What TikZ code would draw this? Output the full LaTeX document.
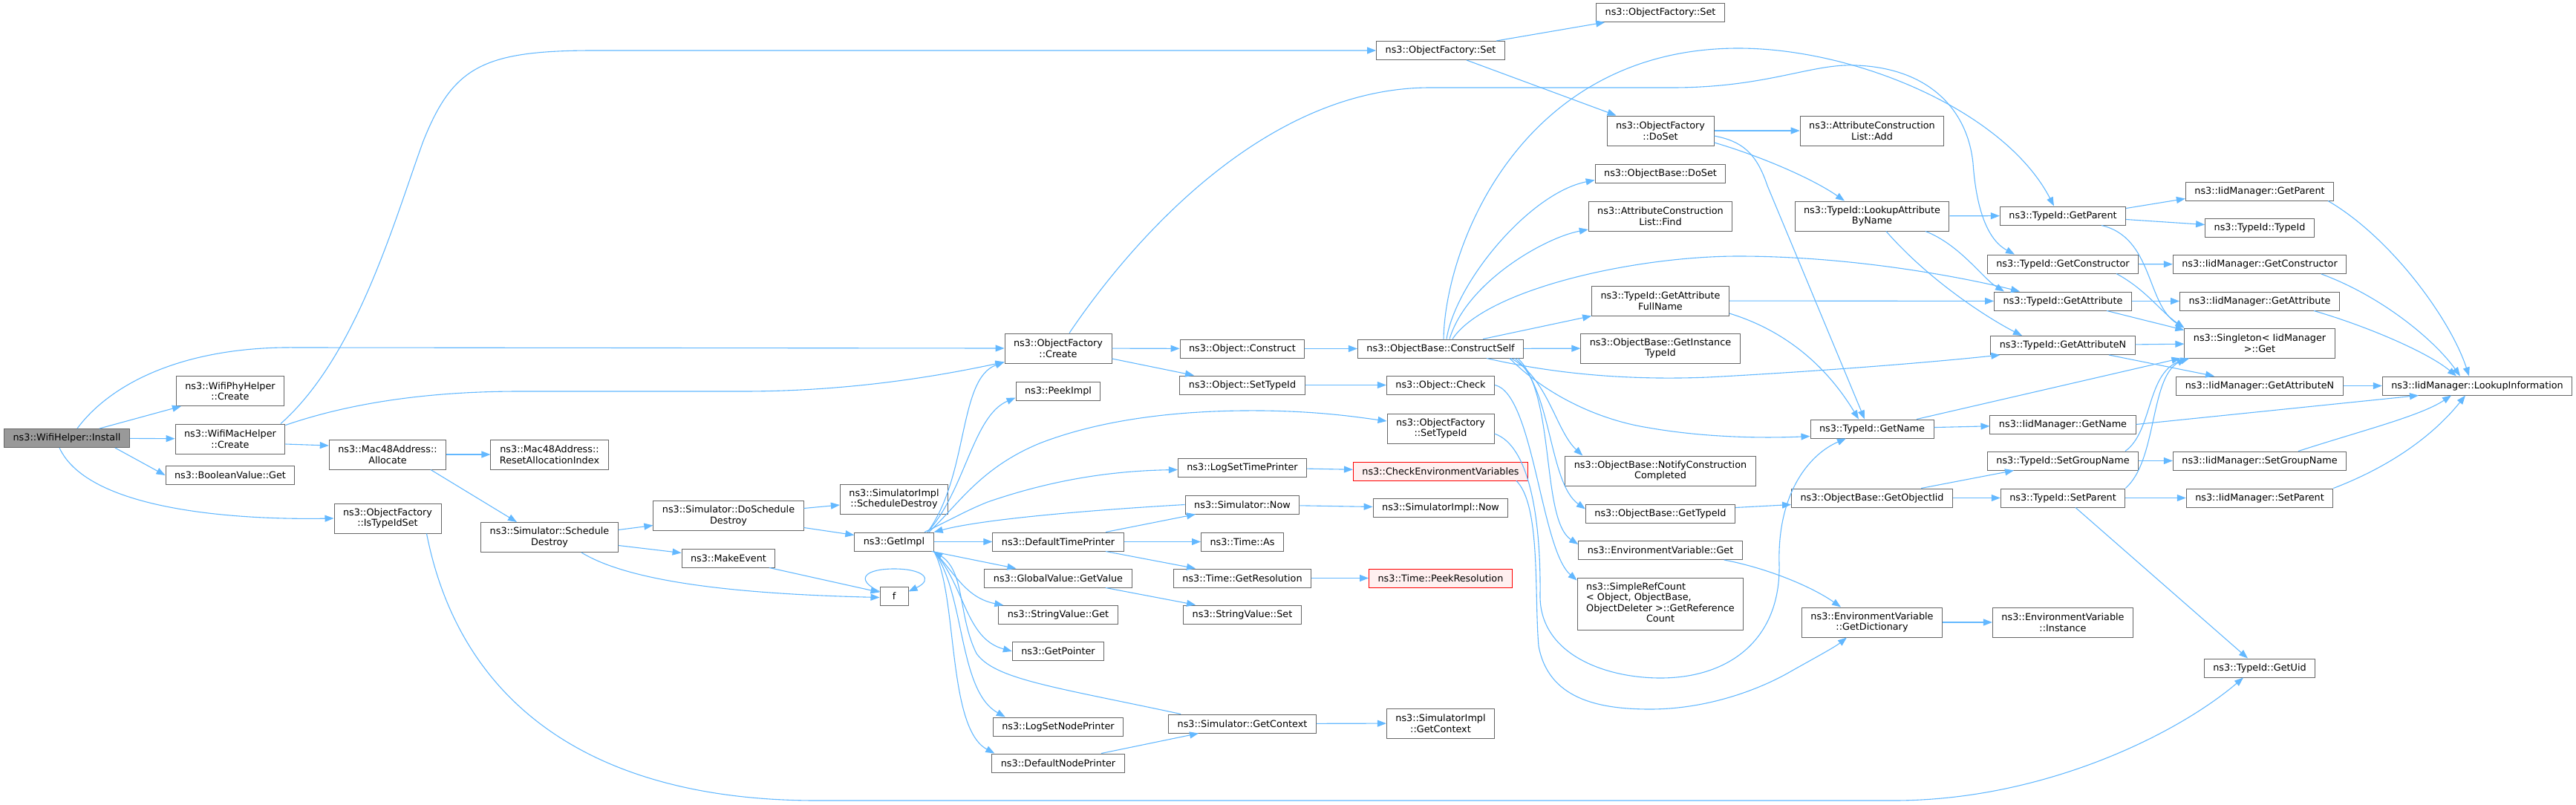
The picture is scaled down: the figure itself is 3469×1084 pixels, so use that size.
\documentclass[tikz,border=0pt]{standalone}
\usepackage{fontspec}
\setmainfont{DejaVu Sans}
\usepackage{xcolor}
\usetikzlibrary{arrows.meta}
\definecolor{edgeblue}{HTML}{63B8FF}
\definecolor{boxgray}{HTML}{666666}
\definecolor{rootgray}{HTML}{999999}
\definecolor{truncfill}{HTML}{FFF0F0}

\begin{document}
\begin{tikzpicture}[->, >={Triangle[length=12pt,width=9pt]}, draw=edgeblue, line width=1.1pt, x=1pt, y=-1pt, font=\fontsize{12.8pt}{14.5pt}\selectfont]
    \tikzstyle{fn}=[draw=boxgray, fill=white, rectangle, line width=1pt, align=center, inner xsep=12pt, inner ysep=6pt, minimum height=25pt, minimum width=38pt]
    \tikzstyle{fn2}=[fn, minimum height=40pt]
    \tikzstyle{root}=[fn, fill=rootgray]
    \tikzstyle{trunc}=[fn, draw=red, fill=truncfill]

    \useasboundingbox (0,0) rectangle (3469,1084);

    \node[root] (install) at (90,590) {ns3::WifiHelper::Install};

    \node[fn2] (phyCreate) at (310,526.5) {ns3::WifiPhyHelper\\::Create};
    \node[fn2] (macCreate) at (310,591) {ns3::WifiMacHelper\\::Create};
    \node[fn] (boolGet) at (310,640) {ns3::BooleanValue::Get};

    \node[fn2] (macAlloc) at (522,612) {ns3::Mac48Address::\\Allocate};
    \node[fn2] (isTypeIdSet) at (522,698) {ns3::ObjectFactory\\::IsTypeIdSet};

    \node[fn2] (resetAlloc) at (740,612) {ns3::Mac48Address::\\ResetAllocationIndex};
    \node[fn2] (schedDestroy) at (740,723.5) {ns3::Simulator::Schedule\\Destroy};

    \node[fn2] (doSchedDestroy) at (981,694.5) {ns3::Simulator::DoSchedule\\Destroy};
    \node[fn] (makeEvent) at (981,751.5) {ns3::MakeEvent};

    \node[fn2] (implSchedDestroy) at (1204,672) {ns3::SimulatorImpl\\::ScheduleDestroy};
    \node[fn] (getImpl) at (1204,729.5) {ns3::GetImpl};
    \node[fn] (f) at (1204,802.5) {f};

    \node[fn2] (objCreate) at (1425,469) {ns3::ObjectFactory\\::Create};
    \node[fn] (peekImpl) at (1425,526.5) {ns3::PeekImpl};
    \node[fn] (defTimePrinter) at (1425,729.5) {ns3::DefaultTimePrinter};
    \node[fn] (gvGetValue) at (1425,778.5) {ns3::GlobalValue::GetValue};
    \node[fn] (svGet) at (1425,828) {ns3::StringValue::Get};
    \node[fn] (getPointer) at (1425,877) {ns3::GetPointer};
    \node[fn] (logSetNodePrinter) at (1425,978.5) {ns3::LogSetNodePrinter};
    \node[fn] (defNodePrinter) at (1425,1027.5) {ns3::DefaultNodePrinter};

    \node[fn] (objConstruct) at (1673,469.5) {ns3::Object::Construct};
    \node[fn] (objSetTypeId) at (1673,518.5) {ns3::Object::SetTypeId};
    \node[fn] (logSetTimePrinter) at (1673,629.5) {ns3::LogSetTimePrinter};
    \node[fn] (simNow) at (1673,679.5) {ns3::Simulator::Now};
    \node[fn] (timeAs) at (1673,729.5) {ns3::Time::As};
    \node[fn] (timeGetRes) at (1673,778.5) {ns3::Time::GetResolution};
    \node[fn] (svSet) at (1673,827.5) {ns3::StringValue::Set};
    \node[fn] (simGetContext) at (1673,974.5) {ns3::Simulator::GetContext};

    \node[fn] (ofSet2) at (1940,68) {ns3::ObjectFactory::Set};
    \node[fn] (constructSelf) at (1940,469.5) {ns3::ObjectBase::ConstructSelf};
    \node[fn] (objCheck) at (1940,518.5) {ns3::Object::Check};
    \node[fn2] (ofSetTypeId) at (1940,577) {ns3::ObjectFactory\\::SetTypeId};
    \node[trunc] (checkEnv) at (1940,634.5) {ns3::CheckEnvironmentVariables};
    \node[fn] (implNow) at (1940,684) {ns3::SimulatorImpl::Now};
    \node[trunc] (peekRes) at (1940,778.5) {ns3::Time::PeekResolution};
    \node[fn2] (implGetContext) at (1940,974) {ns3::SimulatorImpl\\::GetContext};

    \node[fn] (ofSet1) at (2236,17) {ns3::ObjectFactory::Set};
    \node[fn2] (ofDoSet) at (2236,176) {ns3::ObjectFactory\\::DoSet};
    \node[fn] (obDoSet) at (2236,233.5) {ns3::ObjectBase::DoSet};
    \node[fn2] (aclFind) at (2236,291) {ns3::AttributeConstruction\\List::Find};
    \node[fn2] (getAttrFullName) at (2236,405) {ns3::TypeId::GetAttribute\\FullName};
    \node[fn2] (getInstTypeId) at (2236,469) {ns3::ObjectBase::GetInstance\\TypeId};
    \node[fn2] (notifyCC) at (2236,634) {ns3::ObjectBase::NotifyConstruction\\Completed};
    \node[fn] (obGetTypeId) at (2236,691.5) {ns3::ObjectBase::GetTypeId};
    \node[fn] (envGet) at (2236,741) {ns3::EnvironmentVariable::Get};
    \node[fn, minimum height=70pt] (refCount) at (2236,813) {\begin{tabular}{@{}l@{}}ns3::SimpleRefCount\\< Object, ObjectBase,\\\multicolumn{1}{@{}c@{}}{ObjectDeleter >::GetReference}\\\multicolumn{1}{@{}c@{}}{Count}\end{tabular}};

    \node[fn2] (aclAdd) at (2521,176) {ns3::AttributeConstruction\\List::Add};
    \node[fn2] (lookupAttr) at (2521,291) {ns3::TypeId::LookupAttribute\\ByName};
    \node[fn] (tidGetName) at (2521,577.5) {ns3::TypeId::GetName};
    \node[fn] (getObjectIid) at (2521,670.5) {ns3::ObjectBase::GetObjectIid};
    \node[fn2] (envGetDict) at (2521,838) {ns3::EnvironmentVariable\\::GetDictionary};

    \node[fn] (tidGetParent) at (2778,290.5) {ns3::TypeId::GetParent};
    \node[fn] (tidGetCtor) at (2778,355.5) {ns3::TypeId::GetConstructor};
    \node[fn] (tidGetAttr) at (2778,405.5) {ns3::TypeId::GetAttribute};
    \node[fn] (tidGetAttrN) at (2778,465) {ns3::TypeId::GetAttributeN};
    \node[fn] (iidGetName) at (2778,571.5) {ns3::IidManager::GetName};
    \node[fn] (tidSetGroupName) at (2778,620.5) {ns3::TypeId::SetGroupName};
    \node[fn] (tidSetParent) at (2778,670.5) {ns3::TypeId::SetParent};
    \node[fn2] (envInstance) at (2778,838) {ns3::EnvironmentVariable\\::Instance};

    \node[fn] (iidGetParent) at (3043,257.5) {ns3::IidManager::GetParent};
    \node[fn] (tidTypeId) at (3043,306.5) {ns3::TypeId::TypeId};
    \node[fn] (iidGetCtor) at (3043,356) {ns3::IidManager::GetConstructor};
    \node[fn] (iidGetAttr) at (3043,405.5) {ns3::IidManager::GetAttribute};
    \node[fn2] (singletonGet) at (3043,462) {ns3::Singleton< IidManager\\>::Get};
    \node[fn] (iidGetAttrN) at (3043,519.5) {ns3::IidManager::GetAttributeN};
    \node[fn] (iidSetGroupName) at (3043,620.5) {ns3::IidManager::SetGroupName};
    \node[fn] (iidSetParent) at (3043,670.5) {ns3::IidManager::SetParent};
    \node[fn] (tidGetUid) at (3043,899.5) {ns3::TypeId::GetUid};

    \node[fn] (lookupInfo) at (3336,519.5) {ns3::IidManager::LookupInformation};

    \path (install) edge (macCreate);
    \path ([xshift=44pt]install.north) edge ([xshift=-66pt]phyCreate.south);
    \path ([xshift=-20pt]install.south east) edge (boolGet.west);
    \draw ([xshift=14pt]install.north) .. controls (150,515) and (250,466) .. (400,468) -- (objCreate.west);
    \draw ([xshift=-10pt]install.south) .. controls (120,690) and (330,700) .. (isTypeIdSet.west);

    \draw ([xshift=68pt]macCreate.north) .. controls (480,480) and (530,300) .. (570,190) .. controls (610,90) and (650,68) .. (800,68) -- (ofSet2.west);
    \draw ([yshift=-2pt]macCreate.north east) .. controls (450,550) and (550,527) .. (700,527) -- (1000,527) .. controls (1150,527) and (1270,505) .. ([yshift=2pt]objCreate.south west);
    \path ([yshift=-7pt]macCreate.east) edge ([yshift=12pt]macAlloc.west);

    \path (macAlloc) edge (resetAlloc);
    \path ([xshift=58pt]macAlloc.south) edge ([xshift=-44pt]schedDestroy.north);
    \draw ([xshift=-20pt]isTypeIdSet.south east) .. controls (620,950) and (800,1078) .. (1100,1078) -- (2550,1078) .. controls (2750,1078) and (2930,990) .. ([xshift=-22pt]tidGetUid.south);

    \path ([yshift=10pt]schedDestroy.east) edge ([yshift=-13pt]doSchedDestroy.west);
    \path ([yshift=-11pt]schedDestroy.east) edge ([yshift=7pt]makeEvent.west);
    \draw ([xshift=43pt]schedDestroy.south) .. controls (850,785) and (1000,800) .. ([yshift=-2pt]f.west);
    \path ([xshift=55pt]makeEvent.south) edge ([yshift=5pt]f.west);
    \path ([yshift=10pt]doSchedDestroy.east) edge ([yshift=-8pt]implSchedDestroy.west);
    \path ([yshift=-16pt]doSchedDestroy.east) edge ([yshift=9pt]getImpl.west);
    \draw ([yshift=6pt]f.west) .. controls (1150,780) and (1165,766) .. (1204,766) .. controls (1243,766) and (1258,780) .. ([yshift=6pt]f.east);

    \draw ([xshift=45pt]getImpl.north) .. controls (1305,640) and (1290,510) .. ([yshift=2pt]objCreate.south west);
    \draw ([xshift=45pt]getImpl.north) .. controls (1300,660) and (1310,560) .. ([yshift=-9pt]peekImpl.west);
    \draw ([xshift=47pt]getImpl.north) .. controls (1290,680) and (1320,630) .. (1400,597) .. controls (1490,562) and (1600,552) .. (1700,553) .. controls (1780,554) and (1830,562) .. ([yshift=10pt]ofSetTypeId.west);
    \draw ([xshift=41pt]getImpl.north) .. controls (1280,700) and (1300,688) .. (1330,676) .. controls (1420,645) and (1500,634) .. ([yshift=-3pt]logSetTimePrinter.west);
    \draw (simNow.west) .. controls (1450,688) and (1320,700) .. (getImpl.north east);
    \path (getImpl) edge (defTimePrinter);
    \path ([xshift=-3pt]getImpl.south east) edge ([xshift=43pt]gvGetValue.north west);
    \draw (getImpl.south east) .. controls (1285,770) and (1300,805) .. ([xshift=7pt]svGet.north west);
    \draw (getImpl.south east) .. controls (1300,790) and (1300,860) .. (getPointer.west);
    \draw (getImpl.south east) .. controls (1300,800) and (1290,930) .. ([xshift=17pt]logSetNodePrinter.north west);
    \draw (getImpl.south east) .. controls (1290,800) and (1275,980) .. ([xshift=4pt]defNodePrinter.north west);
    \draw ([xshift=17pt]simGetContext.north west) .. controls (1420,925) and (1340,915) .. (1315,880) .. controls (1290,830) and (1300,770) .. (getImpl.south east);

    \path ([xshift=58pt]defNodePrinter.north) edge ([xshift=-59pt]simGetContext.south);
    \path ([xshift=64pt]defTimePrinter.north) edge ([xshift=-63pt]simNow.south);
    \path (defTimePrinter) edge (timeAs);
    \path ([xshift=64pt]defTimePrinter.south) edge ([xshift=-63pt]timeGetRes.north);
    \path ([xshift=64pt]gvGetValue.south) edge ([xshift=-63pt]svSet.north);
    \path (objCreate) edge (objConstruct);
    \path ([yshift=-14pt]objCreate.east) edge ([xshift=-65pt]objSetTypeId.north);
    \draw ([xshift=15pt]objCreate.north) .. controls (1520,330) and (1700,118) .. (1926,118) -- (2252,118) .. controls (2380,118) and (2440,85) .. (2500,88) .. controls (2600,92) and (2650,150) .. (2657,220) .. controls (2662,290) and (2680,325) .. ([xshift=-65pt]tidGetCtor.north);

    \path (logSetTimePrinter) edge (checkEnv);
    \path (simNow) edge (implNow);
    \path (timeGetRes) edge (peekRes);
    \path (simGetContext) edge (implGetContext);
    \path (objConstruct) edge (constructSelf);
    \path (objSetTypeId) edge (objCheck);

    \path ([xshift=75pt]ofSet2.north) edge ([xshift=12pt]ofSet1.south west);
    \path ([xshift=35pt]ofSet2.south) edge ([xshift=13pt]ofDoSet.north west);

    \draw ([xshift=4pt]constructSelf.north) .. controls (1946,330) and (2050,65) .. (2341,65) .. controls (2500,65) and (2700,150) .. ([xshift=-12pt]tidGetParent.north);
    \draw ([xshift=8pt]constructSelf.north) .. controls (1960,380) and (2060,260) .. ([yshift=-9pt]obDoSet.west);
    \draw ([xshift=12pt]constructSelf.north) .. controls (1975,380) and (2080,320) .. ([yshift=-18pt]aclFind.west);
    \draw ([xshift=16pt]constructSelf.north) .. controls (2000,390) and (2200,345) .. (2341,345) .. controls (2500,345) and (2650,375) .. ([xshift=-58pt]tidGetAttr.north);
    \path ([xshift=57pt]constructSelf.north) edge (getAttrFullName.south west);
    \path (constructSelf) edge (getInstTypeId);
    \draw ([xshift=62pt]constructSelf.south) .. controls (2100,505) and (2200,512) .. (2300,508) .. controls (2450,500) and (2600,488) .. ([xshift=13pt]tidGetAttrN.south west);
    \draw ([xshift=93pt]constructSelf.south) .. controls (2080,530) and (2150,565) .. (2220,576) .. controls (2300,590) and (2380,590) .. ([yshift=-10pt]tidGetName.west);
    \draw ([xshift=95pt]constructSelf.south) .. controls (2085,510) and (2095,580) .. ([xshift=24pt]notifyCC.north west);
    \draw ([xshift=100pt]constructSelf.south) .. controls (2090,520) and (2085,650) .. ([yshift=6pt]obGetTypeId.west);
    \draw ([xshift=104pt]constructSelf.south) .. controls (2095,530) and (2075,700) .. ([yshift=8pt]envGet.west);
    \draw (objCheck.east) .. controls (2065,530) and (2075,740) .. ([yshift=-4pt]refCount.north west);
    \draw ([yshift=-7pt]ofSetTypeId.east) .. controls (2060,600) and (2075,700) .. (2074,800) .. controls (2072,880) and (2160,913) .. (2236,913) .. controls (2330,913) and (2398,860) .. (2396,760) .. controls (2393,660) and (2440,610) .. ([xshift=-35pt]tidGetName.south);
    \draw ([xshift=102pt]checkEnv.south) .. controls (2075,680) and (2066,800) .. (2072,870) .. controls (2085,940) and (2150,955) .. (2222,955) .. controls (2300,955) and (2370,928) .. (2410,905) .. controls (2440,888) and (2470,872) .. ([xshift=-34pt]envGetDict.south);

    \path (ofDoSet) edge (aclAdd);
    \draw ([yshift=-16pt]ofDoSet.east) .. controls (2370,210) and (2440,240) .. ([xshift=-37pt]lookupAttr.north);
    \draw ([yshift=-7pt]ofDoSet.east) .. controls (2345,190) and (2365,205) .. (2380,250) -- ([xshift=-10pt]tidGetName.north);
    \path (getAttrFullName) edge (tidGetAttr);
    \draw ([yshift=-17pt]getAttrFullName.east) .. controls (2420,450) and (2470,510) .. ([xshift=-18pt]tidGetName.north);
    \path ([yshift=8pt]obGetTypeId.east) edge ([yshift=-9pt]getObjectIid.west);
    \draw ([xshift=-25pt]envGet.south east) .. controls (2380,765) and (2440,790) .. ([xshift=-42pt]envGetDict.north);

    \path (lookupAttr) edge (tidGetParent);
    \draw ([xshift=72pt]lookupAttr.south) .. controls (2640,330) and (2670,375) .. ([xshift=-79pt]tidGetAttr.north);
    \draw ([xshift=19pt]lookupAttr.south) .. controls (2600,380) and (2680,430) .. ([xshift=-55pt]tidGetAttrN.north);
    \path (tidGetName) edge (iidGetName);
    \path ([xshift=60pt]tidGetName.north) edge ([xshift=-5pt]singletonGet.south west);
    \path ([xshift=66pt]getObjectIid.north) edge ([xshift=-66pt]tidSetGroupName.south);
    \path (getObjectIid) edge (tidSetParent);
    \path (envGetDict) edge (envInstance);

    \path ([yshift=10pt]tidGetParent.east) edge ([yshift=-10pt]iidGetParent.west);
    \path ([yshift=-5pt]tidGetParent.east) edge ([yshift=4pt]tidTypeId.west);
    \draw ([xshift=52pt]tidGetParent.south) .. controls (2900,320) and (2890,410) .. (singletonGet.north west);
    \path (tidGetCtor) edge (iidGetCtor);
    \draw ([xshift=72pt]tidGetCtor.south) .. controls (2890,390) and (2910,420) .. (singletonGet.north west);
    \path (tidGetAttr) edge (iidGetAttr);
    \path ([xshift=59pt]tidGetAttr.south) edge ([yshift=-3pt]singletonGet.north west);
    \path (tidGetAttrN) edge (singletonGet);
    \path ([xshift=62pt]tidGetAttrN.south) edge ([xshift=-61pt]iidGetAttrN.north);
    \path (iidGetName.east) edge ([xshift=-79pt]lookupInfo.south);
    \path (tidSetGroupName) edge (iidSetGroupName);
    \draw ([xshift=84pt]tidSetGroupName.north) .. controls (2900,580) and (2890,500) .. ([xshift=7pt]singletonGet.south west);
    \path (tidSetParent) edge (iidSetParent);
    \draw (tidSetParent.north east) .. controls (2905,620) and (2895,510) .. ([xshift=2pt]singletonGet.south west);
    \path ([xshift=17pt]tidSetParent.south) edge ([xshift=-16pt]tidGetUid.north);

    \draw ([xshift=92pt]iidGetParent.south) .. controls (3220,320) and (3300,430) .. ([xshift=-11pt]lookupInfo.north);
    \draw ([xshift=83pt]iidGetCtor.south) .. controls (3210,400) and (3280,460) .. ([xshift=-23pt]lookupInfo.north);
    \draw ([xshift=73pt]iidGetAttr.south) .. controls (3190,440) and (3270,475) .. ([xshift=-28pt]lookupInfo.north);
    \path (iidGetAttrN) edge (lookupInfo);
    \draw ([xshift=52pt]iidSetGroupName.north) .. controls (3180,580) and (3260,560) .. ([xshift=-35pt]lookupInfo.south);
    \draw (iidSetParent.north east) .. controls (3240,620) and (3290,570) .. ([xshift=-16pt]lookupInfo.south);
\end{tikzpicture}
\end{document}
